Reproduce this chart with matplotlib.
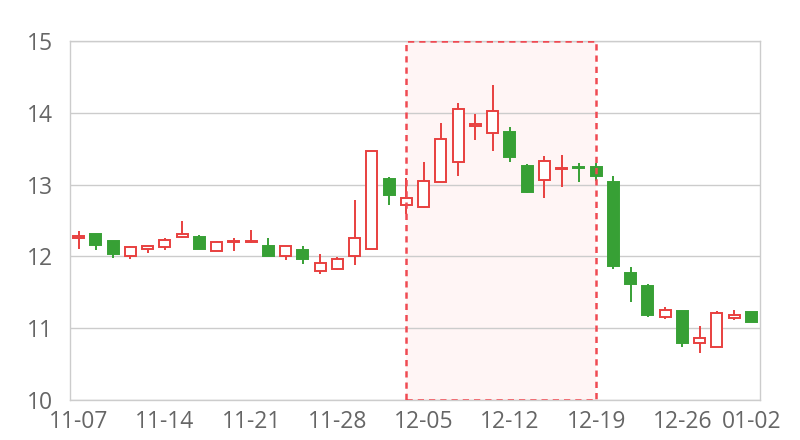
import numpy as np
import matplotlib
matplotlib.use('Agg')
import matplotlib.pyplot as plt
from matplotlib.patches import Rectangle

# trading days, 2024-11-07 .. 2025-01-02
dates = ['11-07', '11-08', '11-11', '11-12', '11-13', '11-14', '11-15', '11-18', '11-19', '11-20',
         '11-21', '11-22', '11-25', '11-26', '11-27', '11-28', '11-29', '12-02', '12-03', '12-04',
         '12-05', '12-06', '12-09', '12-10', '12-11', '12-12', '12-13', '12-16', '12-17', '12-18',
         '12-19', '12-20', '12-23', '12-24', '12-25', '12-26', '12-27', '12-30', '12-31', '01-02']
opens = [12.26, 12.31, 12.21, 12.01, 12.11, 12.13, 12.27, 12.27, 12.08, 12.20,
         12.20, 12.14, 12.01, 12.09, 11.80, 11.83, 12.00, 12.10, 13.08, 12.71,
         12.69, 13.04, 13.31, 13.82, 13.72, 13.73, 13.26, 13.07, 13.22, 13.24,
         13.24, 13.03, 11.77, 11.59, 11.16, 11.24, 10.80, 10.74, 11.14, 11.23]
closes = [12.28, 12.16, 12.04, 12.13, 12.14, 12.23, 12.31, 12.11, 12.20, 12.21,
          12.21, 12.00, 12.14, 11.97, 11.91, 11.97, 12.25, 13.47, 12.86, 12.82,
          13.05, 13.64, 14.05, 13.85, 14.02, 13.39, 12.90, 13.33, 13.23, 13.23,
          13.12, 11.86, 11.61, 11.19, 11.26, 10.79, 10.87, 11.21, 11.19, 11.08]
highs = [12.35, 12.31, 12.21, 12.14, 12.15, 12.26, 12.49, 12.30, 12.21, 12.26,
         12.37, 12.25, 12.14, 12.14, 12.04, 11.99, 12.78, 13.47, 13.10, 13.09,
         13.32, 13.86, 14.14, 13.99, 14.39, 13.80, 13.29, 13.40, 13.41, 13.30,
         13.30, 13.12, 11.85, 11.61, 11.30, 11.24, 11.03, 11.24, 11.26, 11.23]
lows = [12.11, 12.09, 11.98, 11.96, 12.05, 12.09, 12.26, 12.11, 12.08, 12.08,
        12.19, 12.00, 11.95, 11.89, 11.75, 11.81, 11.88, 12.10, 12.72, 12.59,
        12.67, 13.03, 13.12, 13.62, 13.47, 13.32, 12.88, 12.82, 12.97, 13.03,
        13.05, 11.82, 11.36, 11.16, 11.13, 10.74, 10.66, 10.74, 11.12, 11.08]

area_start, area_end = '12-04', '12-19'

UP = '#e8403f'
DOWN = '#37a035'
GRID = '#cccccc'
TEXT = '#666666'

plt.rcParams['font.family'] = ['Open Sans', 'DejaVu Sans']

fig = plt.figure(figsize=(8, 4.4), dpi=100)
ax = fig.add_axes([0.0875, 0.0909, 0.8625, 0.8159])

x = np.arange(len(dates))
o = np.array(opens)
c = np.array(closes)
up = c >= o

# highlighted period
i0, i1 = dates.index(area_start), dates.index(area_end)
ax.add_patch(Rectangle((i0, 10), i1 - i0, 5, facecolor='#fff5f5', edgecolor='none', zorder=0.5))
ax.add_patch(Rectangle((i0, 10), i1 - i0, 5, facecolor='none', edgecolor='#f04a52',
                       linestyle=(0, (2.5, 2)), linewidth=1.8, zorder=4))

colors = np.where(up, UP, DOWN)
ax.vlines(x, lows, highs, colors=colors, linewidth=1.4, zorder=2)
bottoms = np.minimum(o, c)
heights = np.maximum(np.abs(c - o), 0.005)
faces = ['white' if u else DOWN for u in up]
ax.bar(x, heights, bottom=bottoms, width=0.64, color=faces, edgecolor=colors,
       linewidth=1.4, zorder=3)

tick_idx = list(range(0, len(dates), 5)) + [len(dates) - 1]
ax.set_xlim(-0.5, len(dates) - 0.5)
ax.set_ylim(10, 15)
ax.set_yticks([10, 11, 12, 13, 14, 15])
ax.set_xticks(tick_idx)
ax.set_xticklabels([dates[i] for i in tick_idx])
ax.yaxis.grid(True, color=GRID, linewidth=1)
ax.set_axisbelow(True)
for s in ax.spines.values():
    s.set_color(GRID)
    s.set_linewidth(1)
ax.tick_params(axis='both', length=0, labelsize=16.5, colors=TEXT)
ax.tick_params(axis='x', pad=7)
ax.tick_params(axis='y', pad=12)

fig.savefig('out.png', dpi=100)
